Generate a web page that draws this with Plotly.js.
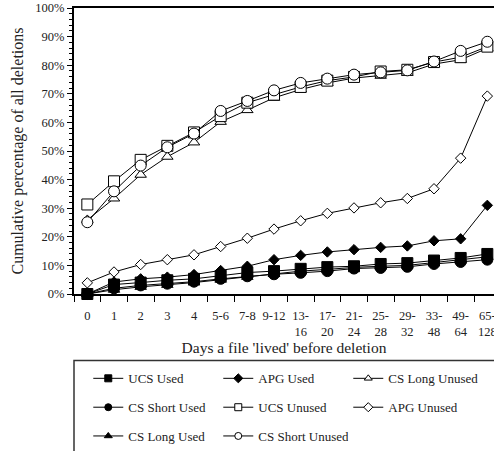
<!DOCTYPE html>
<html><head><meta charset="utf-8">
<script src="https://cdn.plot.ly/plotly-3.0.1.min.js"></script>
<style>body{margin:0;background:#fff;}#chart{width:494px;height:451px;}</style>
</head><body><div id="chart"></div>
<script>
const days = ['0','1','2','3','4','5-6','7-8','9-12','13-16','17-20','21-24','25-28','29-32','33-48','49-64','65-128'];
const dayLabels = ['0','1','2','3','4','5-6','7-8','9-12','13-<br>16','17-<br>20','21-<br>24','25-<br>28','29-<br>32','33-<br>48','49-<br>64','65-<br>128'];

const ucsUsed       = [0, 3.3, 4.0, 4.8, 5.3, 6.3, 7.5, 8.0, 8.8, 9.4, 9.7, 10.5, 10.8, 11.7, 12.6, 14.0];
const csShortUsed   = [0, 2.0, 3.0, 3.6, 4.3, 5.3, 6.2, 6.9, 7.4, 8.0, 8.9, 9.1, 9.5, 10.5, 11.2, 12.0];
const csLongUsed    = [0, 1.5, 2.5, 3.2, 4.0, 5.0, 6.0, 7.0, 8.0, 8.6, 9.3, 9.7, 10.0, 11.0, 12.0, 13.0];
const apgUsed       = [0, 4.2, 5.3, 5.9, 6.8, 8.2, 9.7, 12.0, 13.5, 14.7, 15.5, 16.3, 16.8, 18.6, 19.3, 31.0];
const ucsUnused     = [31.3, 39.4, 46.9, 51.8, 56.5, 62.2, 66.9, 69.7, 72.4, 74.6, 75.9, 77.8, 78.4, 81.1, 82.8, 86.5];
const csShortUnused = [25.1, 35.9, 44.9, 51.3, 56.1, 64.0, 67.5, 71.2, 73.8, 75.3, 76.7, 77.5, 78.2, 81.3, 85.0, 88.2];
const csLongUnused  = [25.9, 33.4, 41.7, 48.0, 53.0, 60.2, 64.3, 68.6, 71.5, 73.8, 75.5, 76.3, 77.3, 80.4, 81.9, 85.9];
const apgUnused     = [3.9, 7.7, 10.3, 12.0, 13.7, 16.6, 19.5, 22.7, 25.6, 28.2, 30.1, 31.9, 33.4, 36.8, 47.5, 69.2];

const seriesNames = ['UCS Used','CS Short Used','CS Long Used','APG Used','UCS Unused','CS Short Unused','CS Long Unused','APG Unused'];
const seriesData = [ucsUsed, csShortUsed, csLongUsed, apgUsed, ucsUnused, csShortUnused, csLongUnused, apgUnused];
const symbols = ['square','circle','triangle-up','diamond','square','circle','triangle-up','diamond'];
const fills = ['#000','#000','#000','#000','#fff','#fff','#fff','#fff'];
const sizes = [11, 11, 10, 8, 11, 11, 10, 8];
const legendOf = ['legend','legend2','legend3','legend','legend2','legend3','legend','legend2'];
const legendRank = [1, 1, 1, 2, 2, 2, 3, 3];

const traces = [];
const drawOrder = [7, 6, 4, 5, 3, 2, 1, 0];
drawOrder.forEach(i => {
  traces.push({
    type: 'scatter', mode: 'lines+markers', name: seriesNames[i],
    x: days, y: seriesData[i], showlegend: false, cliponaxis: false,
    line: {color: '#000', width: 1},
    marker: {symbol: symbols[i], size: sizes[i], color: fills[i], line: {color: '#000', width: 1}}
  });
});
seriesNames.forEach((n, i) => {
  traces.push({
    type: 'scatter', mode: 'lines+markers', name: n,
    x: [null], y: [null], legend: legendOf[i], legendrank: legendRank[i],
    line: {color: '#000', width: 1},
    marker: {symbol: symbols[i], size: 7, color: fills[i], line: {color: '#000', width: 1}}
  });
});

const fam = 'Liberation Serif, serif';
const font = {family: fam, color: '#222'};
const legBase = {orientation: 'h', xanchor: 'left', yanchor: 'middle', x: 0.034,
  entrywidth: 85, entrywidthmode: 'pixels', bgcolor: 'rgba(0,0,0,0)', borderwidth: 0,
  font: Object.assign({size: 13}, font), traceorder: 'normal'};

const layout = {
  width: 494, height: 451,
  margin: {l: 74, r: 0, t: 8, b: 155},
  paper_bgcolor: '#fff', plot_bgcolor: '#fff',
  font: Object.assign({size: 12}, font),
  xaxis: {
    type: 'category', range: [-0.5, 15.25],
    tickmode: 'array', tickvals: days, ticktext: dayLabels, tickson: 'boundaries', tickangle: 0,
    ticks: 'outside', ticklen: 6, tickwidth: 1, tickcolor: '#000', ticklabelstandoff: 9,
    showline: true, linecolor: '#000', linewidth: 2, mirror: true,
    showgrid: false, zeroline: false,
    tickfont: Object.assign({size: 12.5}, font),
    title: {text: "Days a file 'lived' before deletion", font: Object.assign({size: 15.5}, font), standoff: 4}
  },
  yaxis: {
    range: [0, 100], dtick: 10, ticksuffix: '%',
    ticks: 'outside', ticklen: 5, tickwidth: 1, tickcolor: '#000',
    minor: {dtick: 2, ticks: 'outside', ticklen: 3, tickcolor: '#000', tickwidth: 1},
    showline: true, linecolor: '#000', linewidth: 2, mirror: false,
    showgrid: false, zeroline: false,
    tickfont: Object.assign({size: 12.5}, font),
    title: {text: 'Cumulative percentage of all deletions', font: Object.assign({size: 16}, font), standoff: 8}
  },
  legend: Object.assign({}, legBase, {y: -0.295}),
  legend2: Object.assign({}, legBase, {y: -0.396}),
  legend3: Object.assign({}, legBase, {y: -0.497}),
  shapes: [{type: 'rect', xref: 'paper', yref: 'paper', x0: 0, x1: 1.2, y0: -0.2326, y1: -0.75,
    line: {color: '#333', width: 1.5}, fillcolor: 'rgba(0,0,0,0)'}]
};

Plotly.newPlot('chart', traces, layout, {displayModeBar: false, staticPlot: true});
</script>
</body></html>
